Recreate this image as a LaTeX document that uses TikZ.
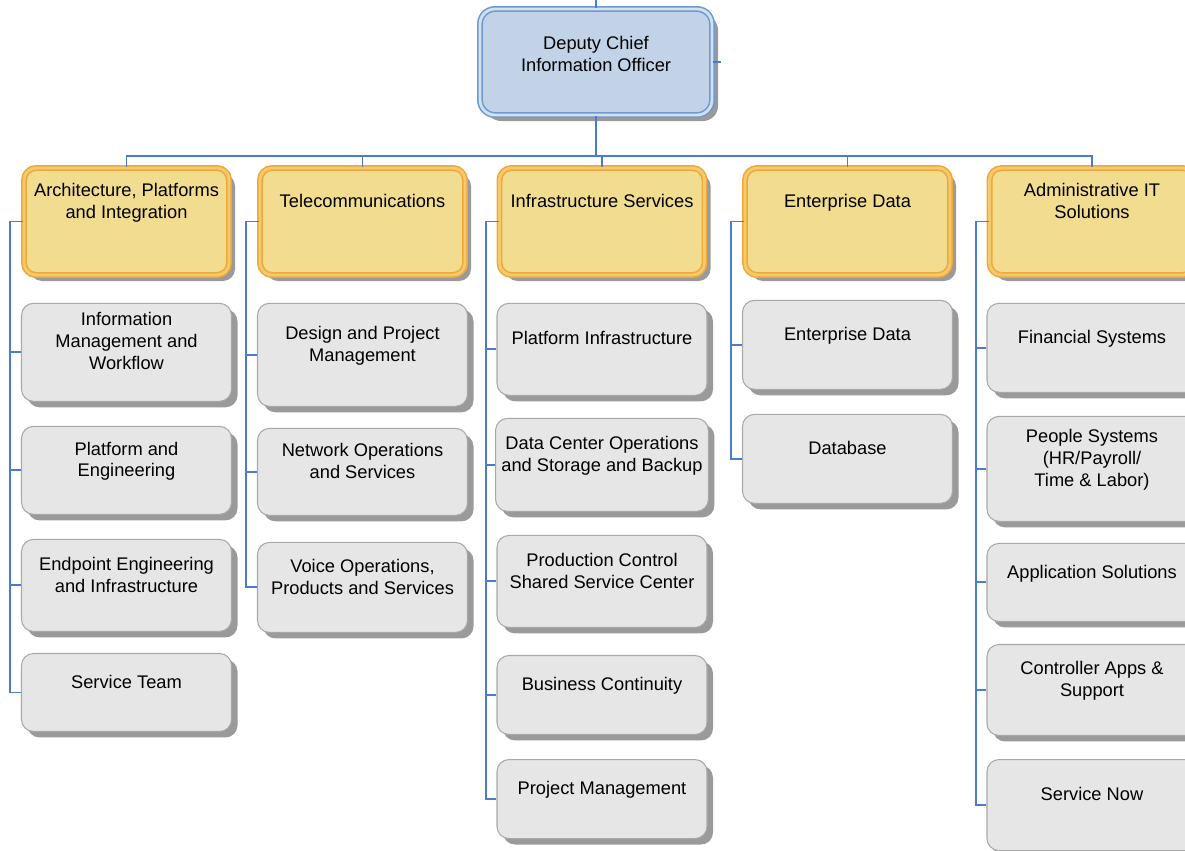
\documentclass[tikz,border=0pt]{standalone}
\usepackage{fontspec}
\setmainfont{Liberation Sans}
\usetikzlibrary{positioning,shadows}
\usepackage{xcolor}

\definecolor{linkblue}{HTML}{4A7BCD}
\definecolor{boxgray}{HTML}{E6E6E6}
\definecolor{edgegray}{HTML}{A8A8A8}
\definecolor{shadegray}{HTML}{9A9A9A}
\definecolor{headfill}{HTML}{F1DC8F}
\definecolor{headedge}{HTML}{F0A935}
\definecolor{topfill}{HTML}{C3D3E7}
\definecolor{topedge}{HTML}{6E9AD2}

\tikzset{
	base/.style={rounded corners=0.24cm, align=center, font=\fontsize{10.4}{12.5}\selectfont,
		drop shadow={shadow xshift=0.12cm, shadow yshift=-0.12cm, fill=shadegray, opacity=1}},
	chief/.style={base, draw=topedge, double=topfill!70!white, double distance=1.6pt, line width=0.9pt,
		fill=topfill, minimum width=4.64cm, minimum height=2.12cm, text depth=0.34cm, rounded corners=0.3cm},
	head/.style={base, draw=headedge, double=headfill!80!orange, double distance=1.6pt, line width=0.9pt,
		fill=headfill, minimum width=4.1cm, minimum height=2.14cm, text depth=0.84cm},
	unit/.style={base, draw=edgegray, line width=0.6pt, fill=boxgray,
		minimum width=4.2cm, minimum height=#1, text depth=0.44cm},
	unit/.default=1.78cm,
	link/.style={draw=linkblue, line width=1.1pt}
}

\begin{document}
\begin{tikzpicture}
	\path[use as bounding box] (0,0) rectangle (23.7,-17);
	\clip (0,0) rectangle (23.7,-17);

	\node[chief] (DCIO) at (11.92,-1.24) {Deputy Chief\\Information Officer};

	\node[head] (API) at (2.53,-4.43) {Architecture, Platforms\\and Integration};
	\node[head] (TEL) at (7.25,-4.43) {Telecommunications};
	\node[head] (INF) at (12.04,-4.43) {Infrastructure Services};
	\node[head] (ENT) at (16.95,-4.43) {Enterprise Data};
	\node[head] (AIT) at (21.84,-4.43) {Administrative IT\\Solutions};

	% architecture
	\node[unit=1.96cm, below=0.54cm of API] (API1) {Information\\Management and\\Workflow};
	\node[unit=1.76cm, below=0.48cm of API1] (API2) {Platform and\\Engineering};
	\node[unit=1.84cm, below=0.48cm of API2] (API3) {Endpoint Engineering\\and Infrastructure};
	\node[unit=1.56cm, below=0.42cm of API3] (API4) {Service Team};

	% telecom
	\node[unit=2.06cm, below=0.54cm of TEL] (TEL1) {Design and Project\\Management};
	\node[unit=1.74cm, below=0.42cm of TEL1] (TEL2) {Network Operations\\and Services};
	\node[unit=1.8cm, below=0.52cm of TEL2] (TEL3) {Voice Operations,\\Products and Services};

	% infrastructure
	\node[unit=1.84cm, below=0.54cm of INF] (INF1) {Platform Infrastructure};
	\node[unit=1.86cm, below=0.44cm of INF1] (INF2) {Data Center Operations\\and Storage and Backup};
	\node[unit=1.84cm, below=0.46cm of INF2] (INF3) {Production Control\\Shared Service Center};
	\node[unit=1.58cm, below=0.54cm of INF3] (INF4) {Business Continuity};
	\node[unit=1.58cm, below=0.48cm of INF4] (INF5) {Project Management};

	% enterprise data
	\node[unit, below=0.48cm of ENT] (ENT1) {Enterprise Data};
	\node[unit, below=0.48cm of ENT1] (ENT2) {Database};

	% admin IT
	\node[unit=1.78cm, below=0.54cm of AIT] (AIT1) {Financial Systems};
	\node[unit=2.1cm, below=0.46cm of AIT1] (AIT2) {People Systems\\(HR/Payroll/\\Time \& Labor)};
	\node[unit=1.56cm, below=0.42cm of AIT2] (AIT3) {Application Solutions};
	\node[unit=1.82cm, below=0.44cm of AIT3] (AIT4) {Controller Apps \&\\Support};
	\node[unit=1.82cm, below=0.46cm of AIT4] (AIT5) {Service Now};

	% connectors
	\coordinate (bus) at (0,-3.12);
	\coordinate (up) at (11.92,0);
	\draw[link] (DCIO.north) -- (DCIO.north |- up);
	\draw[link] (DCIO.east) -- ++(0.16,0) coordinate (side);
	\draw[link] (DCIO.south) -- (DCIO.south |- bus);
	\draw[link] (API.north) -- (API.north |- bus) -- (AIT.north |- bus) -- (AIT.north);
	\foreach \h in {TEL,INF,ENT}
		\draw[link] (\h.north) -- (\h.north |- bus);

	\foreach \h/\n in {API/4,TEL/3,INF/5,ENT/2,AIT/5}
		\foreach \k in {1,...,\n}
			\draw[link] (\h.west) -- ++(-0.26,0) |- (\h\k.west);
\end{tikzpicture}
\end{document}
